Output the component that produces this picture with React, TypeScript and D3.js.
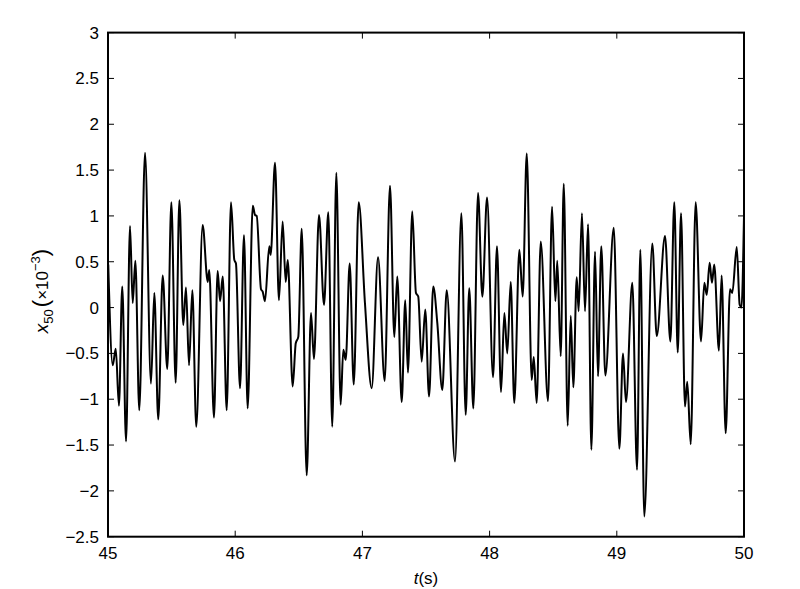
import React from "react";
import * as d3 from "d3";

// time (s) of the traced turning points
const times: number[] = [
  45.002, 45.037, 45.061, 45.086, 45.112, 45.142, 45.173, 45.194, 45.215, 45.246,
  45.291, 45.338, 45.364, 45.395, 45.43, 45.466, 45.498, 45.532, 45.561, 45.592,
  45.613, 45.637, 45.663, 45.694, 45.744, 45.784, 45.796, 45.833, 45.862, 45.881,
  45.902, 45.933, 45.967, 45.993, 46.006, 46.038, 46.069, 46.098, 46.138, 46.156,
  46.169, 46.203, 46.216, 46.234, 46.268, 46.279, 46.313, 46.344, 46.373, 46.397,
  46.413, 46.452, 46.476, 46.496, 46.523, 46.562, 46.596, 46.619, 46.659, 46.698,
  46.732, 46.763, 46.795, 46.829, 46.85, 46.869, 46.9, 46.932, 46.971, 47.02,
  47.073, 47.123, 47.175, 47.217, 47.251, 47.274, 47.309, 47.337, 47.358, 47.392,
  47.421, 47.439, 47.466, 47.494, 47.524, 47.557, 47.589, 47.628, 47.663, 47.728,
  47.778, 47.812, 47.84, 47.872, 47.909, 47.943, 47.98, 48.027, 48.058, 48.09,
  48.116, 48.139, 48.166, 48.194, 48.234, 48.26, 48.292, 48.331, 48.347, 48.37,
  48.402, 48.459, 48.491, 48.517, 48.532, 48.559, 48.583, 48.614, 48.638, 48.658,
  48.685, 48.7, 48.726, 48.75, 48.774, 48.8, 48.829, 48.852, 48.878, 48.91,
  48.976, 49.02, 49.049, 49.072, 49.122, 49.159, 49.185, 49.216, 49.279, 49.314,
  49.379, 49.421, 49.452, 49.479, 49.505, 49.536, 49.554, 49.581, 49.62, 49.662,
  49.688, 49.707, 49.73, 49.748, 49.766, 49.803, 49.824, 49.856, 49.89, 49.908,
  49.943, 49.966, 49.98, 50.0,
];

// x50 (×10^-3)
const values: number[] = [
  0.47, -0.63, -0.45, -1.07, 0.23, -1.46, 0.89, 0.05, 0.51, -1.12,
  1.69, -0.83, 0.16, -1.22, 0.35, -0.67, 1.15, -0.82, 1.17, -0.19,
  0.22, -0.63, 0.19, -1.3, 0.9, 0.28, 0.41, -1.2, 0.4, 0.07,
  0.34, -1.12, 1.15, 0.52, 0.48, -0.88, 0.79, -1.1, 1.11, 1.01,
  1.0, 0.2, 0.175, 0.07, 0.67, 0.575, 1.58, 0.08, 0.94, 0.28,
  0.52, -0.86, -0.39, -0.32, 0.86, -1.83, -0.06, -0.56, 1.01, 0.03,
  1.04, -1.3, 1.47, -1.06, -0.46, -0.57, 0.48, -0.84, 1.15, 0.05,
  -0.88, 0.55, -0.8, 1.33, -0.32, 0.34, -1.03, 0.08, -0.71, 1.05,
  0.16, 0.12, -0.59, -0.02, -0.97, 0.23, -0.17, -0.9, 0.19, -1.68,
  1.03, -1.17, 0.21, -1.1, 1.25, 0.12, 1.2, -0.76, 0.67, -0.92,
  -0.06, -0.5, 0.28, -1.04, 0.63, 0.12, 1.68, -0.79, -0.54, -1.04,
  0.72, -1.02, 1.1, 0.07, 0.51, -0.53, 1.35, -1.29, -0.09, -0.87,
  0.33, -0.04, 1.03, -0.04, 0.91, -1.55, 0.61, -0.75, 0.67, -0.74,
  0.87, -1.54, -0.5, -1.03, 0.27, -1.77, 0.63, -2.28, 0.7, -0.31,
  0.78, -0.37, 1.15, -0.49, 1.03, -1.08, -0.81, -1.49, 1.15, -0.37,
  0.27, 0.14, 0.49, 0.27, 0.47, -0.47, 0.35, -1.37, 0.2, 0.16,
  0.66, 0.03, 0.0, 1.0,
];

const xTicks: number[] = [45, 46, 47, 48, 49, 50];
const yTicks: number[] = [-2.5, -2, -1.5, -1, -0.5, 0, 0.5, 1, 1.5, 2, 2.5, 3];

const FONT = "'Liberation Sans', Arial, Helvetica, sans-serif";

function fmt(v: number): string {
  const s = String(Math.abs(v));
  return v < 0 ? "\u2212" + s : s;
}

export default function App() {
  const W = 800;
  const H = 589;
  const left = 108, right = 744, top = 32.6, bottom = 536.7;
  const x = d3.scaleLinear().domain([45, 50]).range([left, right]);
  const y = d3.scaleLinear().domain([-2.5, 3]).range([bottom, top]);
  const pts: [number, number][] = times.map((t, i) => [t, values[i]]);
  const line = d3
    .line<[number, number]>()
    .x((d) => x(d[0]))
    .y((d) => y(d[1]))
    .curve(d3.curveMonotoneX);
  const tl = 6;

  return (
    <svg
      width={W}
      height={H}
      style={{ position: "absolute", left: 0, top: 0, background: "#fff" }}
      fontFamily={FONT}
    >
      <rect x={0} y={0} width={W} height={H} fill="#fff" />
      <defs>
        <clipPath id="plotclip">
          <rect x={left} y={top} width={right - left} height={bottom - top} />
        </clipPath>
      </defs>
      <path
        d={line(pts) || ""}
        fill="none"
        stroke="#000"
        strokeWidth={2}
        strokeLinejoin="round"
        clipPath="url(#plotclip)"
      />
      {xTicks.map((t) => (
        <g key={"xt" + t}>
          <line x1={x(t)} x2={x(t)} y1={bottom} y2={bottom - tl} stroke="#000" strokeWidth={1} />
          <line x1={x(t)} x2={x(t)} y1={top} y2={top + tl} stroke="#000" strokeWidth={1} />
          <text x={x(t)} y={559} textAnchor="middle" fontSize={17} fill="#000">
            {fmt(t)}
          </text>
        </g>
      ))}
      {yTicks.map((v) => (
        <g key={"yt" + v}>
          <line x1={left} x2={left + tl} y1={y(v)} y2={y(v)} stroke="#000" strokeWidth={1} />
          <line x1={right} x2={right - tl} y1={y(v)} y2={y(v)} stroke="#000" strokeWidth={1} />
          <text x={99} y={y(v) + 6} textAnchor="end" fontSize={17} fill="#000">
            {fmt(v)}
          </text>
        </g>
      ))}
      <rect
        x={left}
        y={top}
        width={right - left}
        height={bottom - top}
        fill="none"
        stroke="#000"
        strokeWidth={2}
      />
      <text x={426} y={584} textAnchor="middle" fontSize={17} fill="#000">
        <tspan fontStyle="italic">t</tspan>
        <tspan>(s)</tspan>
      </text>
      <text
        transform="translate(48,291) rotate(-90)"
        textAnchor="middle"
        fontSize={19}
        fill="#000"
      >
        <tspan fontStyle="italic">x</tspan>
        <tspan fontSize={13} dy={5}>50</tspan>
        <tspan dy={-5} fontSize={22} dx={2}>(</tspan>
        <tspan fontSize={17}>×10</tspan>
        <tspan fontSize={13} dy={-8}>−3</tspan>
        <tspan dy={8} fontSize={22}>)</tspan>
      </text>
    </svg>
  );
}
